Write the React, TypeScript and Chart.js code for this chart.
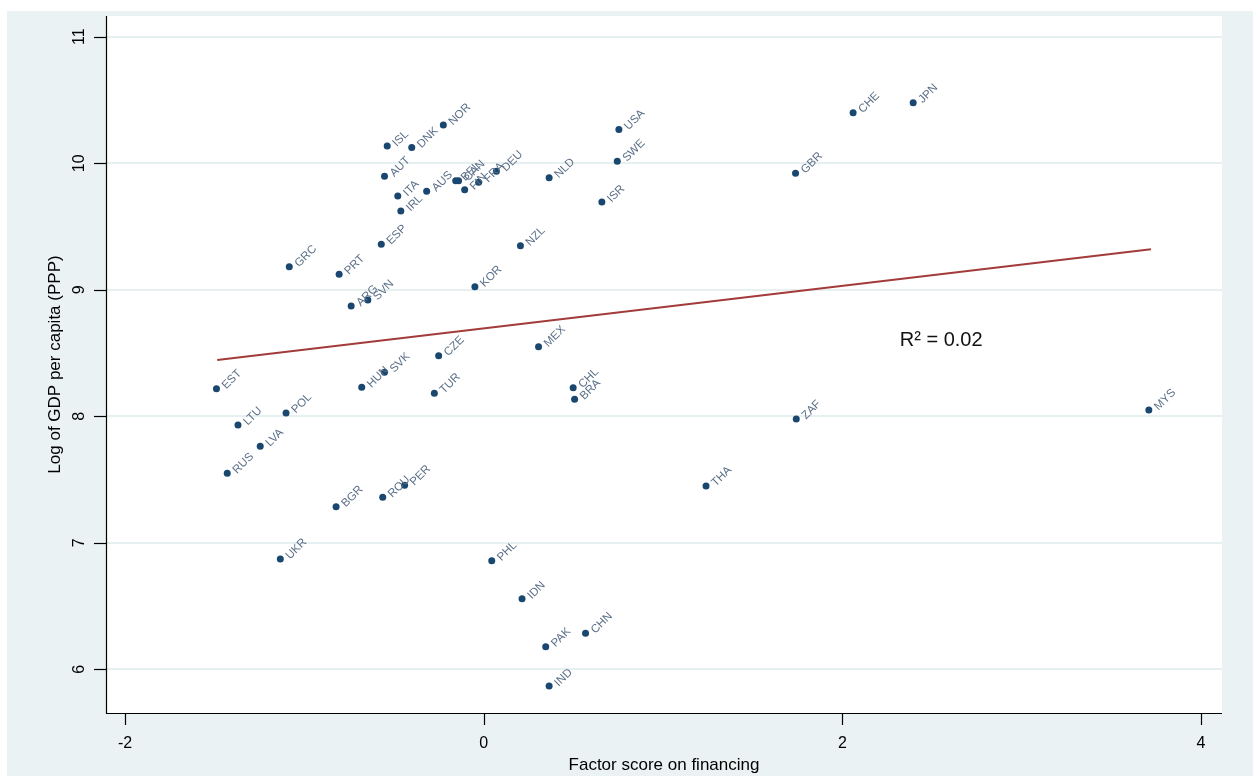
import React, { useEffect, useRef } from "react";
import { Chart, registerables } from "chart.js";

Chart.register(...registerables);

const codes = [
  "EST", "LTU", "POL", "LVA", "RUS", "GRC", "PRT", "ARG", "SVN", "ESP",
  "HUN", "SVK", "CZE", "TUR", "KOR", "NZL", "MEX", "CHL", "BRA", "ISL",
  "DNK", "NOR", "AUT", "ITA", "IRL", "AUS", "BEL", "CAN", "FIN", "FRA",
  "DEU", "NLD", "USA", "SWE", "ISR", "GBR", "CHE", "JPN", "ZAF", "MYS",
  "THA", "PHL", "IDN", "PAK", "CHN", "IND", "UKR", "BGR", "ROU", "PER",
];

const factorScores = [
  -1.49, -1.37, -1.102, -1.246, -1.43, -1.084, -0.806, -0.739, -0.646, -0.571,
  -0.68, -0.553, -0.251, -0.275, -0.049, 0.205, 0.306, 0.499, 0.507, -0.538,
  -0.401, -0.225, -0.553, -0.479, -0.462, -0.318, -0.156, -0.14, -0.106, -0.028,
  0.071, 0.365, 0.754, 0.745, 0.659, 1.739, 2.06, 2.395, 1.743, 3.709,
  1.24, 0.045, 0.214, 0.346, 0.568, 0.365, -1.134, -0.823, -0.563, -0.441,
];

const logGdp = [
  8.218, 7.931, 8.026, 7.763, 7.549, 9.183, 9.123, 8.872, 8.919, 9.36,
  8.229, 8.348, 8.479, 8.182, 9.025, 9.349, 8.55, 8.226, 8.134, 10.136,
  10.124, 10.303, 9.897, 9.742, 9.623, 9.779, 9.862, 9.862, 9.791, 9.85,
  9.937, 9.886, 10.266, 10.016, 9.694, 9.921, 10.4, 10.479, 7.979, 8.05,
  7.449, 6.859, 6.558, 6.179, 6.285, 5.868, 6.872, 7.285, 7.36, 7.455,
];

const fitX = [-1.486, 3.721];
const fitY = [8.445, 9.32];

const xTicks = [-2, 0, 2, 4];
const xTickLabels = ["-2", "0", "2", "4"];
const yTicks = [6, 7, 8, 9, 10, 11];
const yTickLabels = ["6", "7", "8", "9", "10", "11"];

const xTitle = "Factor score on financing";
const yTitle = "Log of GDP per capita (PPP)";
const rSquaredText = "R\u00B2 = 0.02";
const rSquaredAt = { x: 2.32, y: 8.6 };

const FONT = '"Liberation Sans", Arial, Helvetica, sans-serif';

const stataPlugin = {
  id: "stataFrame",
  beforeDatasetsDraw(chart: any) {
    const { ctx, chartArea: a, scales } = chart;
    const x = scales.x;
    const y = scales.y;
    ctx.save();
    ctx.fillStyle = "#eaf2f3";
    ctx.fillRect(0, 0, chart.width, chart.height);
    ctx.fillStyle = "#ffffff";
    ctx.fillRect(a.left, a.top, a.right - a.left, a.bottom - a.top);

    // horizontal grid lines
    ctx.strokeStyle = "#e7f0f1";
    ctx.lineWidth = 2;
    yTicks.forEach((v) => {
      const py = Math.round(y.getPixelForValue(v));
      ctx.beginPath();
      ctx.moveTo(a.left, py);
      ctx.lineTo(a.right, py);
      ctx.stroke();
    });

    // axis lines
    ctx.strokeStyle = "#000";
    ctx.lineWidth = 1.2;
    ctx.beginPath();
    ctx.moveTo(a.left + 0.5, a.top);
    ctx.lineTo(a.left + 0.5, a.bottom + 0.5);
    ctx.lineTo(a.right, a.bottom + 0.5);
    ctx.stroke();

    // tick marks
    yTicks.forEach((v) => {
      const py = Math.round(y.getPixelForValue(v)) + 0.5;
      ctx.beginPath();
      ctx.moveTo(a.left - 12, py);
      ctx.lineTo(a.left, py);
      ctx.stroke();
    });
    xTicks.forEach((v) => {
      const px = Math.round(x.getPixelForValue(v)) + 0.5;
      ctx.beginPath();
      ctx.moveTo(px, a.bottom);
      ctx.lineTo(px, a.bottom + 12);
      ctx.stroke();
    });

    // tick labels
    ctx.fillStyle = "#000";
    ctx.font = `16px ${FONT}`;
    ctx.textAlign = "center";
    ctx.textBaseline = "middle";
    xTicks.forEach((v, i) => {
      ctx.fillText(xTickLabels[i], x.getPixelForValue(v), a.bottom + 31);
    });
    yTicks.forEach((v, i) => {
      ctx.save();
      ctx.translate(a.left - 26, y.getPixelForValue(v));
      ctx.rotate(-Math.PI / 2);
      ctx.fillText(yTickLabels[i], 0, 0);
      ctx.restore();
    });

    // axis titles
    ctx.font = `17px ${FONT}`;
    ctx.fillText(xTitle, (a.left + a.right) / 2, a.bottom + 52);
    ctx.save();
    ctx.translate(a.left - 51, (a.top + a.bottom) / 2);
    ctx.rotate(-Math.PI / 2);
    ctx.fillText(yTitle, 0, 0);
    ctx.restore();
    ctx.restore();
  },
  afterDatasetsDraw(chart: any) {
    const { ctx, scales } = chart;
    const x = scales.x;
    const y = scales.y;
    ctx.save();
    ctx.fillStyle = "#5b6f88";
    ctx.font = `11.5px ${FONT}`;
    ctx.textAlign = "left";
    ctx.textBaseline = "middle";
    codes.forEach((c, i) => {
      const px = x.getPixelForValue(factorScores[i]);
      const py = y.getPixelForValue(logGdp[i]);
      ctx.save();
      ctx.translate(px + 6, py);
      ctx.rotate(-Math.PI / 4);
      ctx.fillText(c, 2, 0);
      ctx.restore();
    });
    ctx.fillStyle = "#111";
    ctx.font = `20px ${FONT}`;
    ctx.textAlign = "left";
    ctx.textBaseline = "middle";
    ctx.fillText(
      rSquaredText,
      x.getPixelForValue(rSquaredAt.x),
      y.getPixelForValue(rSquaredAt.y)
    );
    ctx.restore();
  },
};

export default function App() {
  const canvasRef = useRef<HTMLCanvasElement | null>(null);

  useEffect(() => {
    const canvas = canvasRef.current;
    if (!canvas) return;
    const chart = new Chart(canvas, {
      type: "scatter",
      data: {
        datasets: [
          {
            type: "line",
            label: "Fitted values",
            data: fitX.map((v, i) => ({ x: v, y: fitY[i] })),
            borderColor: "#a33b3b",
            borderWidth: 2,
            pointRadius: 0,
            fill: false,
            tension: 0,
            order: 1,
          } as any,
          {
            type: "scatter",
            label: "Countries",
            data: codes.map((c, i) => ({ x: factorScores[i], y: logGdp[i] })),
            backgroundColor: "#1a476f",
            borderWidth: 0,
            pointRadius: 3.5,
            order: 2,
          },
        ],
      },
      options: {
        animation: false,
        responsive: false,
        devicePixelRatio: 1,
        layout: { padding: { left: 99, top: 5, right: 31, bottom: 63 } },
        plugins: {
          legend: { display: false },
          tooltip: { enabled: false },
        },
        scales: {
          x: { type: "linear", min: -2.106, max: 4.117, display: false },
          y: { type: "linear", min: 5.655, max: 11.164, display: false },
        },
      },
      plugins: [stataPlugin],
    });
    return () => chart.destroy();
  }, []);

  return (
    <div
      style={{
        position: "fixed",
        left: 0,
        top: 0,
        width: 1253,
        height: 776,
        background: "#ffffff",
        overflow: "hidden",
      }}
    >
      <canvas
        ref={canvasRef}
        width={1246}
        height={765}
        style={{ position: "absolute", left: 7, top: 11, width: 1246, height: 765 }}
      />
    </div>
  );
}
